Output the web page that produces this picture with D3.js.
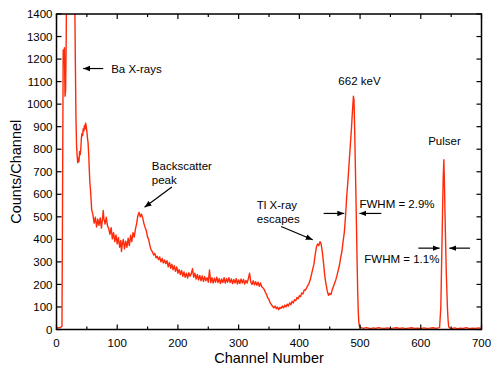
<!DOCTYPE html>
<html>
<head>
<meta charset="utf-8">
<script src="https://cdn.jsdelivr.net/npm/d3@7"></script>
<style>
  html, body { margin: 0; padding: 0; background: #fff; }
  svg { display: block; font-family: "Liberation Sans", Arial, sans-serif; }
</style>
</head>
<body>
<div id="chart"></div>
<script>
// spectrum: channel -> counts
const channels = [
  0, 2, 4, 6, 8, 9, 10, 11, 12, 13, 14, 15, 16, 17, 18, 19, 22, 26, 28, 29, 30, 31, 32, 33, 34, 35, 36, 37, 38, 39,
  40, 41, 42, 43, 44, 45, 46, 47, 48, 49, 50, 51, 52, 53, 54, 55, 56, 57, 58, 59,
  60, 62, 64, 66, 68, 70, 72, 74, 76, 77, 78, 80, 82, 84, 86, 88, 90, 92, 94, 96, 98,
  100, 102, 104, 106, 107, 108, 110, 112, 114, 116, 118, 120, 122, 124, 126, 128, 130, 132, 134, 136, 138,
  140, 142, 144, 146, 148, 150, 152, 154, 156, 158, 160, 162, 164, 166, 168, 170, 172, 174, 176, 178,
  180, 182, 184, 186, 188, 190, 192, 194, 196, 198, 200, 202, 204, 206, 208, 210, 212, 214, 216, 218,
  220, 222, 224, 226, 228, 230, 232, 234, 236, 238, 240, 242, 244, 246, 248, 250, 252, 254, 256, 258,
  260, 262, 264, 266, 268, 270, 272, 274, 276, 278, 280, 282, 284, 286, 288, 290, 292, 294, 296, 298,
  300, 302, 304, 306, 308, 310, 312, 314, 316, 318, 320, 322, 324, 326, 328, 330, 332, 334, 336, 338,
  340, 342, 344, 346, 348, 350, 352, 354, 356, 358, 360, 362, 364, 366, 368, 370, 372, 374, 376, 378,
  380, 382, 384, 386, 388, 390, 392, 394, 396, 398, 400, 402, 404, 406, 408, 410, 412, 414, 416, 418,
  420, 422, 424, 426, 428, 430, 432, 434, 436, 438, 440, 442, 444, 446, 448, 450, 452, 454, 456, 458,
  460, 462, 464, 466, 468, 470, 472, 474, 476, 478, 480, 482, 484, 486, 487, 488, 489, 490, 491, 492,
  493, 494, 495, 496, 497, 498, 499, 500, 503, 506, 510, 514, 518, 522, 526, 530, 535, 540, 545, 550,
  555, 560, 565, 570, 575, 580, 585, 590, 595, 600, 605, 610, 615, 620, 625, 629, 631, 633, 634, 636,
  637, 638, 639, 640, 642, 644, 645, 646, 648, 652, 656, 660, 665, 670, 675, 680, 685, 690, 695, 700
];
const counts = [
  6, 8, 7, 9, 12, 14, 600, 1240, 1180, 1250, 1035, 1060, 1300, 1700, 2400, 3000, 3200, 3100, 2800, 2200, 1500, 1200, 950, 820, 770, 740, 760, 745, 790, 775,
  800, 850, 870, 860, 890, 880, 905, 890, 916, 900, 880, 850, 828, 780, 709, 650, 620, 575, 531, 520,
  510, 472, 498, 455, 490, 462, 495, 450, 498, 528, 492, 468, 498, 460, 448, 422, 452, 402, 430, 390, 420,
  380, 408, 365, 395, 346, 372, 400, 358, 392, 365, 405, 372, 418, 390, 430, 410, 445, 470, 505, 520, 500,
  512, 495, 470, 452, 438, 410, 398, 370, 352, 345, 330, 338, 318, 325, 310, 322, 300, 315, 295, 308,
  292, 305, 278, 298, 272, 290, 265, 283, 258, 278, 250, 266, 244, 262, 236, 255, 232, 250, 228, 252,
  236, 248, 270, 232, 250, 224, 244, 220, 240, 216, 238, 214, 234, 216, 230, 210, 264, 208, 230, 206,
  228, 210, 232, 208, 226, 204, 224, 208, 230, 206, 226, 210, 230, 208, 224, 204, 222, 206, 226, 202,
  220, 204, 224, 206, 222, 202, 218, 206, 226, 250, 210, 200, 216, 198, 212, 196, 210, 192, 206, 190,
  185, 178, 165, 155, 140, 132, 118, 110, 102, 96, 104, 92, 100, 88, 98, 94, 104, 96, 108, 100,
  112, 104, 118, 110, 125, 118, 132, 128, 142, 136, 150, 146, 162, 158, 176, 175, 185, 196, 205, 222,
  245, 268, 290, 330, 365, 380, 372, 390, 378, 340, 290, 235, 200, 170, 152, 160, 155, 175, 190, 205,
  220, 240, 262, 285, 318, 345, 390, 430, 500, 590, 660, 740, 820, 900, 950, 990, 1035, 1020, 900, 760,
  620, 470, 320, 180, 80, 30, 15, 10, 7, 5, 8, 6, 4, 7, 5, 8, 6, 5, 7, 4,
  6, 8, 5, 7, 4, 6, 8, 5, 6, 4, 7, 5, 6, 8, 5, 7, 10, 100, 250, 546,
  680, 753, 640, 500, 250, 90, 40, 12, 6, 5, 7, 4, 6, 5, 8, 4, 6, 5, 7, 5
];
const data = channels.map((c, i) => ({ ch: c, n: counts[i] }));

const xTicks = [0, 100, 200, 300, 400, 500, 600, 700];
const xMinorTicks = [50, 150, 250, 350, 450, 550, 650];
const yTicks = d3.range(0, 1401, 100);

// annotations in data coordinates
const textNotes = [
  { ch: 90, n: 1158, lines: ['Ba X-rays'], anchor: 'start' },
  { ch: 157, n: 726, lines: ['Backscatter', 'peak'], anchor: 'start' },
  { ch: 330, n: 553, lines: ['Tl X-ray', 'escapes'], anchor: 'start' },
  { ch: 499, n: 1104, lines: ['662 keV'], anchor: 'middle' },
  { ch: 639, n: 838, lines: ['Pulser'], anchor: 'middle' },
  { ch: 499, n: 558, lines: ['FWHM = 2.9%'], anchor: 'start' },
  { ch: 507, n: 313, lines: ['FWHM = 1.1%'], anchor: 'start' }
];
const arrows = [
  { x1: 77, y1: 1158, x2: 44, y2: 1158 },
  { x1: 190, y1: 632, x2: 145, y2: 542 },
  { x1: 370, y1: 457, x2: 422, y2: 398 },
  { x1: 440, y1: 515, x2: 474, y2: 515 },
  { x1: 535, y1: 515, x2: 499, y2: 515 },
  { x1: 596, y1: 361, x2: 631, y2: 361 },
  { x1: 681, y1: 361, x2: 647, y2: 361 }
];

const W = 491, H = 369;
const plotL = 56.5, plotR = 481.5, plotT = 14, plotB = 329.5;

const svg = d3.select('#chart').append('svg')
  .attr('width', W)
  .attr('height', H);

const x = d3.scaleLinear().domain([0, 700]).range([plotL, plotR]);
const y = d3.scaleLinear().domain([0, 1400]).range([plotB, plotT]);

const defs = svg.append('defs');
defs.append('clipPath').attr('id', 'plot-clip')
  .append('rect')
  .attr('x', plotL).attr('y', plotT)
  .attr('width', plotR - plotL).attr('height', plotB - plotT);

defs.append('marker')
  .attr('id', 'head')
  .attr('viewBox', '0 0 10 10')
  .attr('refX', 10).attr('refY', 5)
  .attr('markerWidth', 7).attr('markerHeight', 7)
  .attr('markerUnits', 'userSpaceOnUse')
  .attr('orient', 'auto')
  .append('path')
  .attr('d', 'M0,1 L10,5 L0,9 Z')
  .attr('fill', '#000');

// spectrum
const line = d3.line().x(d => x(d.ch)).y(d => y(d.n));
svg.append('path')
  .datum(data)
  .attr('clip-path', 'url(#plot-clip)')
  .attr('fill', 'none')
  .attr('stroke', '#ff2a0a')
  .attr('stroke-width', 1.4)
  .attr('stroke-linejoin', 'round')
  .attr('d', line);

// frame and ticks (all inward)
const axisG = svg.append('g').attr('stroke', '#000');
axisG.append('rect')
  .attr('x', plotL).attr('y', plotT)
  .attr('width', plotR - plotL).attr('height', plotB - plotT)
  .attr('fill', 'none').attr('stroke-width', 1.5);

xTicks.forEach(t => {
  axisG.append('line').attr('x1', x(t)).attr('x2', x(t)).attr('y1', plotB).attr('y2', plotB - 5).attr('stroke-width', 1.2);
  axisG.append('line').attr('x1', x(t)).attr('x2', x(t)).attr('y1', plotT).attr('y2', plotT + 5).attr('stroke-width', 1.2);
});
xMinorTicks.forEach(t => {
  axisG.append('line').attr('x1', x(t)).attr('x2', x(t)).attr('y1', plotB).attr('y2', plotB - 3).attr('stroke-width', 1.2);
  axisG.append('line').attr('x1', x(t)).attr('x2', x(t)).attr('y1', plotT).attr('y2', plotT + 3).attr('stroke-width', 1.2);
});
yTicks.forEach(t => {
  axisG.append('line').attr('x1', plotL).attr('x2', plotL + 5).attr('y1', y(t)).attr('y2', y(t)).attr('stroke-width', 1.2);
  axisG.append('line').attr('x1', plotR).attr('x2', plotR - 5).attr('y1', y(t)).attr('y2', y(t)).attr('stroke-width', 1.2);
});

svg.append('g').selectAll('text')
  .data(xTicks)
  .enter().append('text')
  .attr('x', d => x(d))
  .attr('y', 347)
  .attr('text-anchor', 'middle')
  .attr('font-size', '11.5px')
  .text(d => d);

svg.append('g').selectAll('text')
  .data(yTicks)
  .enter().append('text')
  .attr('x', 52.5)
  .attr('y', d => y(d))
  .attr('dy', '0.36em')
  .attr('text-anchor', 'end')
  .attr('font-size', '11.5px')
  .text(d => d);

svg.append('text')
  .attr('x', (plotL + plotR) / 2)
  .attr('y', 363)
  .attr('text-anchor', 'middle')
  .attr('font-size', '14.5px')
  .text('Channel Number');

svg.append('text')
  .attr('transform', `translate(20.5,${(plotT + plotB) / 2}) rotate(-90)`)
  .attr('text-anchor', 'middle')
  .attr('font-size', '14.5px')
  .text('Counts/Channel');

// annotations
textNotes.forEach(a => {
  const t = svg.append('text')
    .attr('x', x(a.ch))
    .attr('y', y(a.n))
    .attr('text-anchor', a.anchor)
    .attr('font-size', '11.5px');
  a.lines.forEach((s, i) => {
    t.append('tspan').attr('x', x(a.ch)).attr('dy', i === 0 ? '0.36em' : '1.25em').text(s);
  });
});

svg.append('g').selectAll('line')
  .data(arrows)
  .enter().append('line')
  .attr('x1', d => x(d.x1)).attr('y1', d => y(d.y1))
  .attr('x2', d => x(d.x2)).attr('y2', d => y(d.y2))
  .attr('stroke', '#000')
  .attr('stroke-width', 1.2)
  .attr('marker-end', 'url(#head)');
</script>
</body>
</html>
